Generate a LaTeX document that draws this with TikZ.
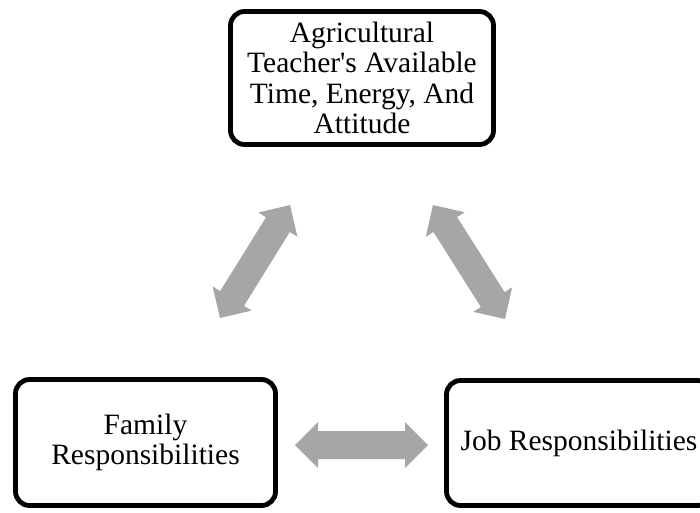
\documentclass[tikz,border=0pt]{standalone}
\usepackage{fontspec}
\setmainfont{Liberation Serif}
\definecolor{arrowgray}{HTML}{A6A6A6}
\newcommand{\blockarrow}[3]{%
\begin{scope}[shift={#1},rotate=#2]
\fill[arrowgray] (0,0) -- (23,23) -- (23,14) -- (#3-23,14) -- (#3-23,23) -- (#3,0)
  -- (#3-23,-23) -- (#3-23,-14) -- (23,-14) -- (23,-23) -- cycle;
\end{scope}}
\begin{document}
\begin{tikzpicture}[x=1pt,y=1pt,
  box/.style={draw=black, line width=4.8pt, rounded corners=14pt, inner sep=0pt,
    align=center, font=\fontsize{29.5}{30.5}\selectfont, fill=white}]
\useasboundingbox (0,0) rectangle (700,-512);
\clip (0,0) rectangle (700,-512);
\node[box, minimum width=263pt, minimum height=133pt] (top) at (362,-78)
  {Agricultural\\Teacher\textquotesingle s Available\\Time, Energy, And\\Attitude};
\node[box, minimum width=260pt, minimum height=126pt] (family) at (145.5,-442.5)
  {Family\\Responsibilities};
\node[box, minimum width=265pt, minimum height=125pt] (job) at (579,-443)
  {Job Responsibilities};
\coordinate (a1) at (220,-318);
\coordinate (a2) at (505,-319);
\coordinate (a3) at (295,-445);
\blockarrow{(a1)}{58.2}{132.9}
\blockarrow{(a2)}{122.3}{134.8}
\blockarrow{(a3)}{0}{133}
\end{tikzpicture}
\end{document}
